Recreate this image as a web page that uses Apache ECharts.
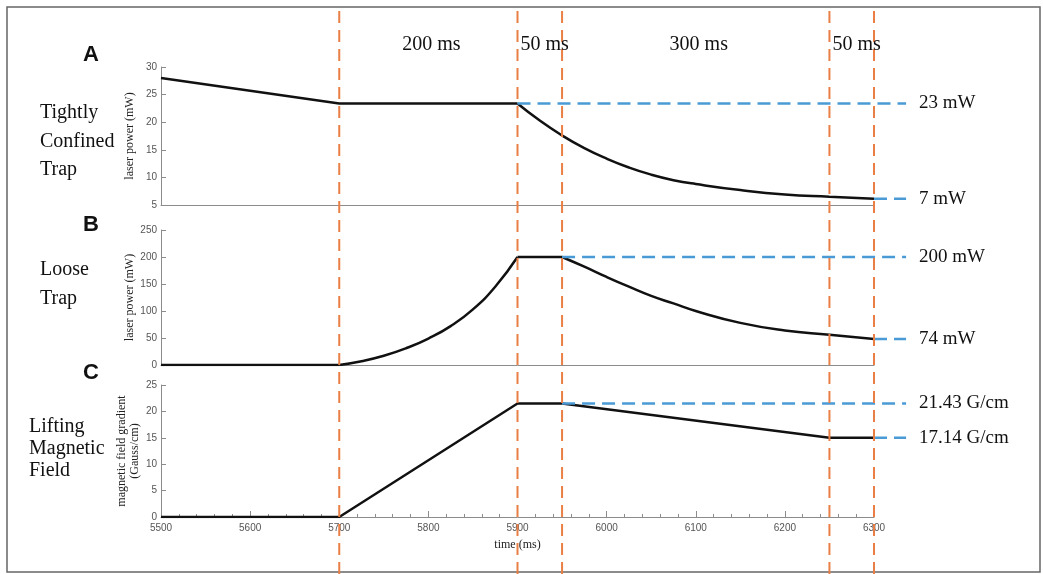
<!DOCTYPE html>
<html>
<head>
<meta charset="utf-8">
<script src="https://cdn.jsdelivr.net/npm/echarts@6/dist/echarts.min.js"></script>
<style>
html, body { margin: 0; padding: 0; background: #fff; }
#chart { width: 1043px; height: 574px; }
</style>
</head>
<body>
<div id="chart"></div>
<script>
// A: tightly confined trap, laser power (mW)
const aRampT = [5500, 5700, 5900];
const aRampV = [28, 23.4, 23.4];
const aDecayT = [5900, 5925, 5950, 5975, 6000, 6025, 6050, 6075, 6100, 6150, 6200, 6250, 6300];
const aDecayV = [23.4, 20.3, 17.6, 15.3, 13.4, 11.8, 10.5, 9.5, 8.8, 7.7, 6.9, 6.5, 6.15];

// B: loose trap, laser power (mW)
const bFlatT = [5500, 5700];
const bFlatV = [0, 0];
const bRiseT = [5700, 5725, 5750, 5775, 5800, 5825, 5850, 5875, 5900];
const bRiseV = [0, 7, 17, 31, 49, 72, 103, 145, 200];
const bHoldT = [5900, 5950];
const bHoldV = [200, 200];
const bDecayT = [5950, 5975, 6000, 6025, 6050, 6075, 6100, 6150, 6200, 6250, 6300];
const bDecayV = [200, 182, 163, 145, 128, 114, 100, 78, 64, 56, 48];

// C: lifting magnetic field gradient (Gauss/cm)
const cT = [5500, 5700, 5900, 5950, 6250, 6300];
const cV = [0, 0, 21.5, 21.5, 15, 15];

// phase boundaries and durations
const phaseTimes = [5700, 5900, 5950, 6250, 6300];
const phaseLabels = ['200 ms', '50 ms', '300 ms', '50 ms'];

// blue reference levels
const refPanel = [0, 0, 1, 1, 2, 2];
const refFrom = [5900, 6300, 5950, 6300, 5950, 6300];
const refValue = [23.4, 6.15, 200, 48, 21.5, 15];
const refLabels = ['23 mW', '7 mW', '200 mW', '74 mW', '21.43 G/cm', '17.14 G/cm'];
const refEnd = 6336;

// y axes
const yMin = [5, 0, 0];
const yMax = [30, 250, 25];
const yStep = [5, 50, 5];
const yNames = ['laser power (mW)', 'laser power (mW)', 'magnetic field gradient\n(Gauss/cm)'];

const tMin = 5500, tMax = 6300;

const serif = "'Liberation Serif', 'Times New Roman', serif";
const sans = "'Liberation Sans', Arial, sans-serif";
const orange = '#ea7f45';
const blue = '#4a9bd5';

const chart = echarts.init(document.getElementById('chart'));

function pairs(t, v) {
  return t.map((x, i) => [x, v[i]]);
}

function curve(gi, t, v, smooth) {
  return {
    type: 'line', xAxisIndex: gi, yAxisIndex: gi,
    data: pairs(t, v), symbol: 'none', smooth: smooth ? 0.5 : false,
    lineStyle: { color: '#111', width: 2.5 }, z: 3
  };
}

const plotLeft = 161, plotRight = 169;
const plotW = 1043 - plotLeft - plotRight;
const panelTop = [67, 230, 385];
const panelBottom = [369, 209, 57];

const grids = [0, 1, 2].map(i => ({ left: plotLeft, right: plotRight, top: panelTop[i], bottom: panelBottom[i] }));
grids.push({ left: plotLeft, right: plotRight, top: 8, bottom: 0 });
// wider grids with the same time scale, for the blue level lines that run past 6300
const wideRight = 1043 - plotLeft - plotW * (refEnd - tMin) / (tMax - tMin);
[0, 1, 2].forEach(i => grids.push({ left: plotLeft, right: wideRight, top: panelTop[i], bottom: panelBottom[i] }));

const xAxes = [0, 1, 2].map(gi => ({
  type: 'value', gridIndex: gi, min: tMin, max: tMax, interval: 100,
  axisLine: { show: true, onZero: false, lineStyle: { color: '#8c8c8c', width: 1 } },
  axisTick: { show: gi === 2, inside: true, length: 6, lineStyle: { color: '#8c8c8c' } },
  minorTick: { show: gi === 2, splitNumber: 5, length: 3, lineStyle: { color: '#8c8c8c' } },
  axisLabel: { show: gi === 2, fontFamily: sans, fontSize: 10, color: '#555', margin: 6,
    formatter: v => String(v) },
  splitLine: { show: false },
  name: gi === 2 ? 'time (ms)' : '', nameLocation: 'middle', nameGap: 22,
  nameMoveOverlap: false,
  nameTextStyle: { fontFamily: serif, fontSize: 12, color: '#222' }
}));
xAxes.push({ type: 'value', gridIndex: 3, min: tMin, max: tMax, show: false });
[4, 5, 6].forEach(gi => xAxes.push({ type: 'value', gridIndex: gi, min: tMin, max: refEnd, show: false }));

const yAxes = [0, 1, 2].map(gi => ({
  type: 'value', gridIndex: gi, min: yMin[gi], max: yMax[gi], interval: yStep[gi],
  name: yNames[gi], nameLocation: 'middle', nameRotate: 90, nameGap: gi === 2 ? 20 : 25,
  nameMoveOverlap: false,
  nameTextStyle: { fontFamily: serif, fontSize: 12, color: '#222', lineHeight: 13 },
  axisLine: { show: true, lineStyle: { color: '#8c8c8c', width: 1 } },
  axisTick: { show: true, inside: true, length: 5, lineStyle: { color: '#8c8c8c' } },
  axisLabel: { fontFamily: sans, fontSize: 10, color: '#555', margin: 4 },
  splitLine: { show: false }
}));
yAxes.push({ type: 'value', gridIndex: 3, min: 0, max: 1, show: false });
[0, 1, 2].forEach(i => yAxes.push({ type: 'value', gridIndex: 4 + i, min: yMin[i], max: yMax[i], show: false }));

const series = [
  curve(0, aRampT, aRampV, false),
  curve(0, aDecayT, aDecayV, true),
  curve(1, bFlatT, bFlatV, false),
  curve(1, bRiseT, bRiseV, true),
  curve(1, bHoldT, bHoldV, false),
  curve(1, bDecayT, bDecayV, true),
  curve(2, cT, cV, false)
];

refValue.forEach((v, i) => {
  series.push({
    type: 'line', xAxisIndex: 4 + refPanel[i], yAxisIndex: 4 + refPanel[i],
    data: [[refFrom[i], v], [refEnd, v]], symbol: 'none',
    lineStyle: { color: blue, width: 2.5, type: [13, 7] }, z: 4
  });
});

phaseTimes.forEach(t => {
  series.push({
    type: 'line', xAxisIndex: 3, yAxisIndex: 3,
    data: [[t, 0], [t, 1]], symbol: 'none',
    lineStyle: { color: orange, width: 2, type: [12, 7] }, z: 6
  });
});

chart.setOption({
  animation: false,
  backgroundColor: '#fff',
  grid: grids,
  xAxis: xAxes,
  yAxis: yAxes,
  series: series
});

// texts placed from the axes
const graphics = [
  { type: 'rect', shape: { x: 7, y: 7, width: 1033, height: 565 },
    style: { fill: 'none', stroke: '#666', lineWidth: 1.5 }, z: 0 }
];

function txt(text, x, y, font, align) {
  graphics.push({ type: 'text', z: 10,
    style: { text: text, x: x, y: y, font: font, fill: '#111',
      align: align || 'left', verticalAlign: 'middle' } });
}

phaseLabels.forEach((lab, i) => {
  const x0 = chart.convertToPixel({ xAxisIndex: 3, yAxisIndex: 3 }, [phaseTimes[i], 0])[0];
  const x1 = chart.convertToPixel({ xAxisIndex: 3, yAxisIndex: 3 }, [phaseTimes[i + 1], 0])[0];
  if (x1 - x0 < 80) txt(lab, x0 + 3, 45, '20px ' + serif, 'left');
  else txt(lab, (x0 + x1) / 2 + 3, 45, '20px ' + serif, 'center');
});

refLabels.forEach((lab, i) => {
  const p = chart.convertToPixel({ gridIndex: 4 + refPanel[i] }, [refEnd, refValue[i]]);
  txt(lab, p[0] + 13, p[1], '19px ' + serif, 'left');
});

txt('A', 91, 55, 'bold 22px ' + sans, 'center');
txt('B', 91, 225, 'bold 22px ' + sans, 'center');
txt('C', 91, 373, 'bold 22px ' + sans, 'center');

const leftFont = '20px ' + serif;
txt('Tightly', 40, 113, leftFont);
txt('Confined', 40, 142, leftFont);
txt('Trap', 40, 170, leftFont);
txt('Loose', 40, 270, leftFont);
txt('Trap', 40, 299, leftFont);
txt('Lifting', 29, 427, leftFont);
txt('Magnetic', 29, 449, leftFont);
txt('Field', 29, 471, leftFont);

chart.setOption({ graphic: graphics });
</script>
</body>
</html>
